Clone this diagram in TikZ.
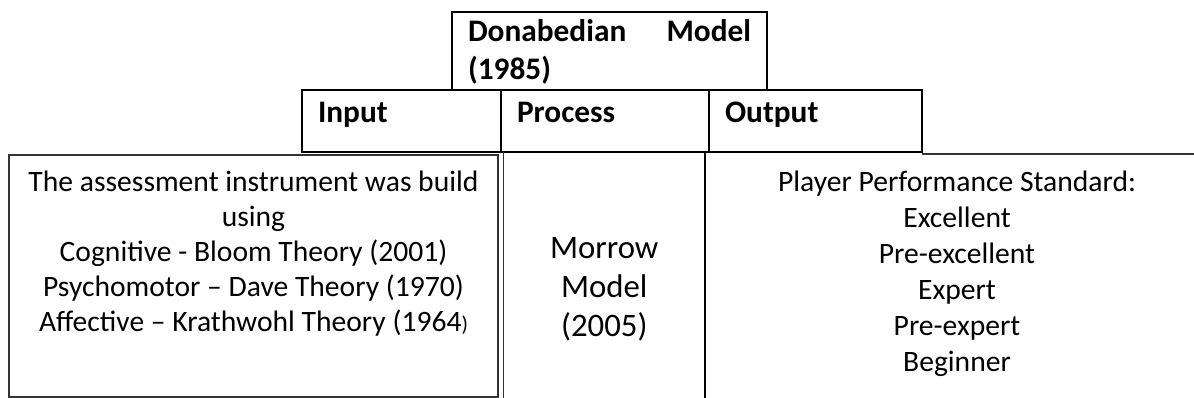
\documentclass[tikz,border=0pt]{standalone}
\usepackage{fontspec}
\setmainfont{Carlito}
\usetikzlibrary{positioning}
\newcommand\cellfont{\fontsize{22.2pt}{26.25pt}\selectfont}
\newcommand\outfont{\fontsize{22.2pt}{27pt}\selectfont}
\newcommand\morrowfont{\fontsize{24.6pt}{29.25pt}\selectfont}
\newcommand\headfont{\fontsize{23.5pt}{28.5pt}\selectfont\bfseries}
\tikzset{
  headcell/.style={
    rectangle, draw, line width=2pt, inner xsep=12pt, inner ysep=0pt,
    outer sep=0pt, align=flush left, text height=24.75pt,
    text depth=21.75pt, font=\headfont
  },
  bodycell/.style={
    rectangle, inner sep=0pt, outer sep=0pt, align=flush center
  },
  thinline/.style={line width=1.1pt, draw=black!80},
  thickline/.style={line width=2pt}
}

\begin{document}
\begin{tikzpicture}[x=0.75pt, y=-0.75pt]
  \useasboundingbox (0,0) rectangle (1194,398);
  % model heading
  \node[headcell, anchor=south west, text width=212.25pt,
        minimum width=236.25pt, text height=22.5pt,
        text depth=36pt] (donabedian) at (452,90)
    {Donabedian\hfill Model\\(1985)};
  % input / process / output row
  \node[headcell, anchor=north west, text width=125.25pt,
        minimum width=149.25pt] (input) at (302,90) {Input};
  \node[headcell, right=0pt of input, text width=132pt,
        minimum width=156pt] (process) {Process};
  \node[headcell, right=0pt of process, text width=135.75pt,
        minimum width=159.75pt] (output) {Output};
  % contents
  \node[bodycell, thinline, anchor=north west, minimum width=366.75pt,
        text width=362pt, text height=27.75pt, text depth=153.75pt,
        font=\cellfont] (instrument) at (9,155)
    {The assessment instrument was build\\
     using\\
     Cognitive - Bloom Theory (2001)\\
     Psychomotor – Dave Theory (1970)\\
     Affective – Krathwohl Theory (1964{\fontsize{16pt}{16pt}\selectfont)}};
  \node[bodycell, anchor=north west, minimum width=151.125pt,
        text width=140pt, text height=80.25pt, text depth=104.25pt,
        font=\morrowfont] (morrow) at (503.5,152)
    {Morrow\\Model\\(2005)};
  \draw[thinline] (morrow.north west) -- (morrow.south west);
  \draw[thickline] (morrow.north east) -- (morrow.south east);
  \node[bodycell, anchor=north west, minimum width=378pt,
        text width=370pt, text height=28.5pt, text depth=154.5pt,
        font=\outfont] (standard) at (705,154)
    {Player Performance Standard:\\
     Excellent\\
     Pre-excellent\\
     Expert\\
     Pre-expert\\
     Beginner};
  \coordinate (rightedge) at (1194,154);
  \draw[thinline] (output.south east |- rightedge) -- (rightedge);
\end{tikzpicture}
\end{document}
